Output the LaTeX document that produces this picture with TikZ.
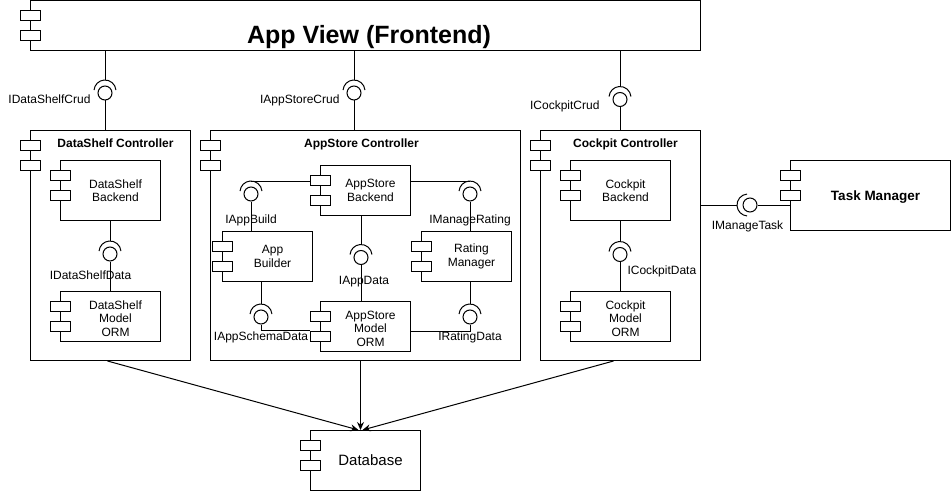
\documentclass[tikz,border=0pt]{standalone}
\usepackage{fontspec}
\setmainfont{Liberation Sans}
\usetikzlibrary{arrows.meta,positioning}

% socket (required half) of an interface, drawn round its ball
\newcommand{\sockup}[1]{%
  \draw ([yshift=2pt]#1.center) ++(5:11pt) arc[start angle=5, end angle=175, radius=11pt];
  \coordinate (#1-s) at ([yshift=13pt]#1.center);}
\newcommand{\sockleft}[1]{%
  \draw ([xshift=-2pt]#1.center) ++(95:11pt) arc[start angle=95, end angle=265, radius=11pt];
  \coordinate (#1-s) at ([xshift=-13pt]#1.center);}

\begin{document}
\begin{tikzpicture}[x=1pt, y=-1pt, line width=1pt,
            every node/.style={font=\fontsize{12}{13.5}\selectfont},
            comp/.style 2 args={draw, fill=white, minimum width=#1, minimum height=#2, inner sep=0pt},
            ctext/.style={align=center, inner sep=0pt, xshift=5pt},
            tab/.style={draw, fill=white},
            ball/.style={circle, draw, fill=white, minimum size=14pt, inner sep=0pt},
            lbl/.style={inner sep=0pt},
            ttl/.style={inner sep=0pt, font=\bfseries\fontsize{12}{14}\selectfont},
            to/.style={-{Stealth[length=8pt,width=7pt]}}
  ]
  \useasboundingbox (0,0) rectangle (952,492);

  % frontend
  \node[comp={670pt}{50pt}, anchor=north west] (app) at (30,0.5) {};
  \node[inner sep=0pt, anchor=base, font=\bfseries\fontsize{25}{30}\selectfont] (appTxt) at (369,43.5) {App View (Frontend)};

  % controllers
  \node[comp={160pt}{230pt}, anchor=north west] (dsCtrl) at (30,130) {};
  \node[comp={310pt}{230pt}, anchor=north west] (asCtrl) at (210,130) {};
  \node[comp={160pt}{230pt}, anchor=north west] (ckCtrl) at (540,130) {};
  \node[ttl, anchor=base] (dsTitle) at ([xshift=5pt,yshift=-17.7pt]dsCtrl.north) {DataShelf Controller};
  \node[ttl, anchor=base] (asTitle) at ([xshift=-4pt,yshift=-17.7pt]asCtrl.north) {AppStore Controller};
  \node[ttl, anchor=base] (ckTitle) at ([xshift=5pt,yshift=-17.7pt]ckCtrl.north) {Cockpit Controller};

  % inner components
  \node[comp={100pt}{60pt}, label={[ctext]center:{DataShelf\\Backend}}] (dsBack) [below right=30pt and 30pt of dsCtrl.north west] {};
  \node[comp={100pt}{50pt}, label={[ctext, yshift=-2pt]center:{DataShelf\\Model\\ORM}}] (dsOrm) [below right=70pt and 0pt of dsBack.south west] {};

  \node[comp={90pt}{50pt}, label={[ctext]center:{AppStore\\Backend}}] (asBack) [below right=35pt and 110pt of asCtrl.north west] {};
  \node[comp={90pt}{50pt}, label={[ctext]center:{App\\Builder}}] (asBuild) [below left=15pt and 7pt of asBack.south west] {};
  \node[comp={90pt}{50pt}, label={[ctext]center:{Rating\\Manager}}] (asRate) [below right=15pt and 10pt of asBack.south east] {};
  \node[comp={90pt}{50pt}, label={[ctext, yshift=-2pt]center:{AppStore\\Model\\ORM}}] (asOrm) [below right=85pt and 0pt of asBack.south west] {};

  \node[comp={100pt}{60pt}, label={[ctext]center:{Cockpit\\Backend}}] (ckBack) [below right=30pt and 30pt of ckCtrl.north west] {};
  \node[comp={100pt}{50pt}, label={[ctext, yshift=-2pt]center:{Cockpit\\Model\\ORM}}] (ckOrm) [below right=70pt and 0pt of ckBack.south west] {};

  % outside
  \node[comp={160pt}{70pt}, anchor=north west, label={[ctext, yshift=-1.5pt, font=\bfseries\fontsize{13.5}{16}\selectfont]center:Task Manager}] (task) at (790,160) {};
  \node[comp={110pt}{60pt}, anchor=north west, label={[ctext, font=\fontsize{15}{18}\selectfont]center:Database}] (db) at (310,430) {};

  \foreach \c in {app,dsCtrl,asCtrl,ckCtrl,dsBack,dsOrm,asBack,asBuild,asRate,asOrm,ckBack,ckOrm,task,db} {
    \draw[tab] ([xshift=-10pt,yshift=-10pt]\c.north west) rectangle ++(20pt,-10pt);
    \draw[tab] ([xshift=-10pt,yshift=-30pt]\c.north west) rectangle ++(20pt,-10pt);
  }

  % interfaces
  \node[ball] (dsCrud) at (105,93) {};
  \node[ball] (asCrud) at (354,93) {};
  \node[ball] (ckCrud) at (620,99.5) {};
  \node[ball] (dsData) at (110,254) {};
  \node[ball] (iBuild) at (251,194) {};
  \node[ball] (iRating) at (470,194) {};
  \node[ball] (iData) at (361,257.5) {};
  \node[ball] (iSchema) at (261,317) {};
  \node[ball] (iRateData) at (470,317) {};
  \node[ball] (ckData) at (620,254.5) {};
  \node[ball] (iTask) at (750,205) {};
  \foreach \i in {dsCrud,asCrud,ckCrud,dsData,iBuild,iRating,iData,iSchema,iRateData,ckData} {\sockup{\i}}
  \sockleft{iTask}

  \coordinate (asBackTab) at ([xshift=-10pt]asBack.west);
  \coordinate (schemaEnd) at ([xshift=-10pt,yshift=-29pt]asOrm.north west);
  \coordinate (rateEnd) at ([yshift=-5pt]asOrm.east);

  \draw (app.south -| dsCrud) -- (dsCrud-s);
  \draw (dsCrud) -- (dsCtrl.north -| dsCrud);
  \draw (app.south -| asCrud) -- (asCrud-s);
  \draw (asCrud) -- (asCtrl.north -| asCrud);
  \draw (app.south -| ckCrud) -- (ckCrud-s);
  \draw (ckCrud) -- (ckCtrl.north -| ckCrud);

  \draw (dsBack.south -| dsData) -- (dsData-s);
  \draw (dsData) -- (dsOrm.north -| dsData);

  \draw (asBackTab |- iBuild-s) -- (iBuild-s);
  \draw (iBuild) -- (asBuild.north -| iBuild);
  \draw (asBack.east |- iRating-s) -- (iRating-s);
  \draw (iRating) -- (asRate.north -| iRating);
  \draw (asBack.south -| iData) -- (iData-s);
  \draw (iData) -- (asOrm.north -| iData);
  \draw (asBuild.south -| iSchema) -- (iSchema-s);
  \draw (iSchema) |- (schemaEnd);
  \draw (asRate.south -| iRateData) -- (iRateData-s);
  \draw (iRateData) |- (rateEnd);

  \draw (ckBack.south -| ckData) -- (ckData-s);
  \draw (ckData) -- (ckOrm.north -| ckData);
  \draw (ckCtrl.east |- iTask) -- (iTask-s);
  \draw (iTask) -- (task.west |- iTask);

  % interface names
  \node[lbl, anchor=base east] (dsCrudLbl) at (91,104) {IDataShelfCrud};
  \node[lbl, anchor=base east] (asCrudLbl) at (340,104) {IAppStoreCrud};
  \node[lbl, anchor=base east] (ckCrudLbl) at (600,109.5) {ICockpitCrud};
  \node[lbl, anchor=base] (dsDataLbl) at (90.5,279.5) {IDataShelfData};
  \node[lbl, anchor=base] (iBuildLbl) at (251,223.3) {IAppBuild};
  \node[lbl, anchor=base] (iRatingLbl) at (470,223.3) {IManageRating};
  \node[lbl, anchor=base] (iDataLbl) at (364,284) {IAppData};
  \node[lbl, anchor=base] (iSchemaLbl) at (261,340.7) {IAppSchemaData};
  \node[lbl, anchor=base] (iRateDataLbl) at (470,340.7) {IRatingData};
  \node[lbl, anchor=base west] (ckDataLbl) at (627,274.5) {ICockpitData};
  \node[lbl, anchor=base] (iTaskLbl) at (747.5,229.3) {IManageTask};

  % database access
  \draw[to] ([xshift=-3pt]dsCtrl.south) -- ([xshift=-7pt]db.north);
  \draw[to] ([xshift=-5pt]asCtrl.south) -- ([xshift=-5pt]db.north);
  \draw[to] ([xshift=-7pt]ckCtrl.south) -- ([xshift=-3pt]db.north);

\end{tikzpicture}
\end{document}
